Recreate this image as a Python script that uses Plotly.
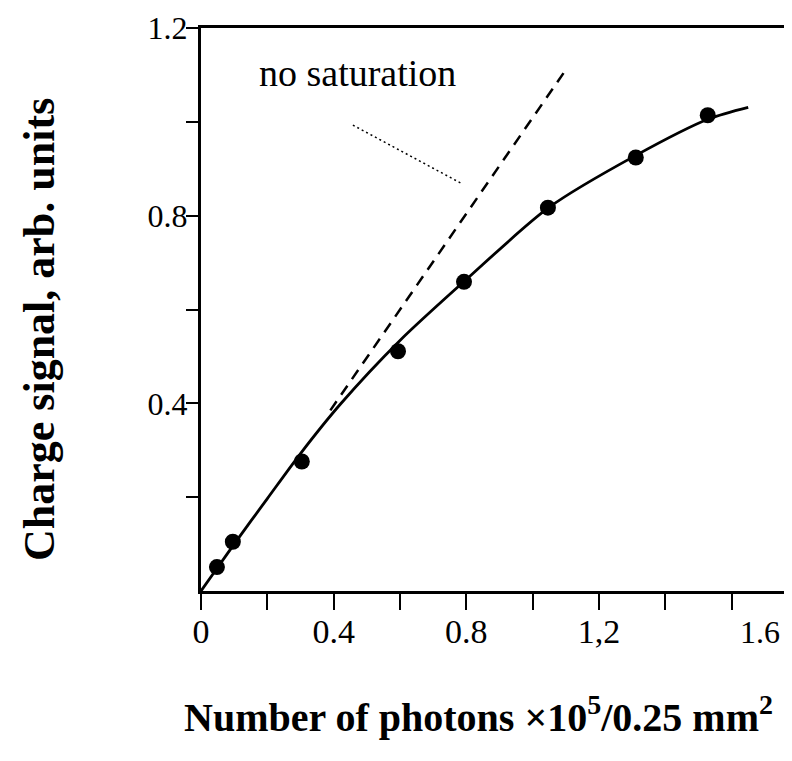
import plotly.graph_objects as go

# Measured points
meas_x = [0.048, 0.096, 0.304, 0.594, 0.793, 1.046, 1.311, 1.528]
meas_y = [0.051, 0.105, 0.276, 0.511, 0.659, 0.817, 0.924, 1.014]

# Fitted (saturating) curve
fit_x = [0.0, 0.05, 0.10, 0.20, 0.30, 0.42, 0.60, 0.80, 1.05, 1.31, 1.53, 1.65]
fit_y = [0.0, 0.05, 0.10, 0.197, 0.293, 0.398, 0.534, 0.664, 0.818, 0.928, 1.006, 1.031]

# "No saturation" line
nosat_x = [0.39, 1.103]
nosat_y = [0.385, 1.114]

# Leader from label to the dashed line
leader_x = [0.458, 0.787]
leader_y = [0.993, 0.868]

x_tickvals = [0, 0.4, 0.8, 1.2]
x_ticktext = ["0", "0.4", "0.8", "1,2"]
x_minorvals = [0.2, 0.6, 1.0, 1.4, 1.6]
y_tickvals = [0.4, 0.8, 1.2]
y_ticktext = ["0.4", "0.8", "1.2"]
y_minorvals = [0.2, 0.6, 1.0]

FONT = "Liberation Serif"

fig = go.Figure()
fig.add_trace(go.Scatter(x=fit_x, y=fit_y, mode="lines",
                         line=dict(color="black", width=2.8, shape="spline", smoothing=0.8),
                         hoverinfo="skip", showlegend=False))
fig.add_trace(go.Scatter(x=nosat_x, y=nosat_y, mode="lines",
                         line=dict(color="black", width=2.5, dash="11px,8px"),
                         showlegend=False))
fig.add_trace(go.Scatter(x=leader_x, y=leader_y, mode="lines",
                         line=dict(color="black", width=1.5, dash="2px,3px"),
                         showlegend=False))
fig.add_trace(go.Scatter(x=meas_x, y=meas_y, mode="markers",
                         marker=dict(color="black", size=16, symbol="circle"),
                         showlegend=False))

fig.add_annotation(x=0.473, y=1.104, text="no saturation", showarrow=False,
                   font=dict(family=FONT, size=38, color="black"))
# last x tick label sits right of its tick in the original
fig.add_annotation(x=1.685, y=0, yref="y", xanchor="center", yanchor="middle", yshift=-41,
                   text="1.6", showarrow=False,
                   font=dict(family=FONT, size=32, color="black"))
fig.add_annotation(x=0.4687, xref="paper", xanchor="center", y=-0.220, yref="paper",
                   yanchor="middle",
                   text="<b>Number of photons ×10<sup>5</sup>/0.25 mm<sup>2</sup></b>",
                   showarrow=False, font=dict(family=FONT, size=40, color="black"))
fig.add_annotation(x=-0.2724, xref="paper", xanchor="center", y=0.4636, yref="paper",
                   yanchor="middle", textangle=-90,
                   text="<b>Charge signal, arb. units</b>",
                   showarrow=False, font=dict(family=FONT, size=44, color="black"))

# page body has an 8px margin: figure is sized so it ends at the window edge
fig.update_layout(
    width=784, height=745,
    margin=dict(l=193, r=0, t=20, b=162),
    paper_bgcolor="white", plot_bgcolor="white",
    font=dict(family=FONT, color="black"),
    xaxis=dict(range=[0, 1.782], showgrid=False, zeroline=False, automargin=False,
               showline=True, linecolor="black", linewidth=3, mirror=True,
               ticks="outside", ticklen=16, tickwidth=2, tickcolor="black",
               ticklabelstandoff=-8,
               tickvals=x_tickvals, ticktext=x_ticktext,
               minor=dict(tickvals=x_minorvals, ticks="outside", ticklen=16,
                          tickwidth=2, tickcolor="black", showgrid=False),
               tickfont=dict(family=FONT, size=34, color="black")),
    yaxis=dict(range=[0, 1.2], showgrid=False, zeroline=False, automargin=False,
               showline=True, linecolor="black", linewidth=3,
               ticks="outside", ticklen=12, tickwidth=2, tickcolor="black",
               ticklabelstandoff=-8,
               tickvals=y_tickvals, ticktext=y_ticktext,
               minor=dict(tickvals=y_minorvals, ticks="outside", ticklen=12,
                          tickwidth=2, tickcolor="black", showgrid=False),
               tickfont=dict(family=FONT, size=32, color="black")),
)

fig.write_html("out.html")
